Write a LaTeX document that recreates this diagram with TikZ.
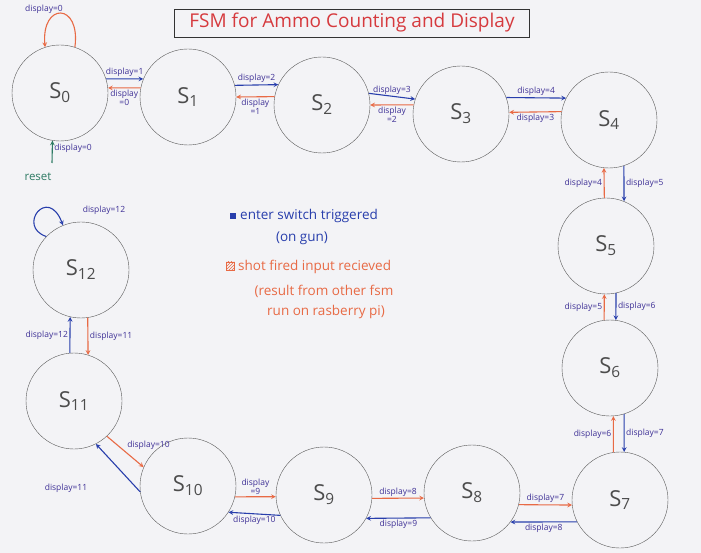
\documentclass[tikz,border=0pt]{standalone}
\usepackage{fontspec}
\setmainfont{Open Sans}
\usetikzlibrary{patterns}

\definecolor{bluearr}{RGB}{40,62,172}
\definecolor{orangearr}{RGB}{232,106,69}
\definecolor{ink}{RGB}{62,48,150}
\definecolor{rstgreen}{RGB}{45,122,99}
\definecolor{titlered}{RGB}{214,58,62}
\definecolor{paper}{RGB}{243,243,246}

\begin{document}
\begin{tikzpicture}[x=1pt, y=-1pt, >=stealth,
  state/.style={circle, draw=black!65, minimum size=96pt, inner sep=0pt,
    font=\fontsize{22}{24}\selectfont, text=black!70},
  enterarr/.style={->, line width=1.1pt, bluearr},
  shotarr/.style={->, line width=1.1pt, orangearr},
  lbl/.style={font=\fontsize{8.5}{9}\selectfont, text=ink, inner sep=1.5pt, align=center},
  legtxt/.style={font=\fontsize{13.5}{15}\selectfont, inner sep=1pt}]

\fill[paper] (0,0) rectangle (701,553);

\node[draw=black!80, line width=0.8pt, minimum width=355pt, minimum height=28pt,
  text=titlered, font=\fontsize{19}{22}\selectfont] (title) at (352,23)
  {FSM for Ammo Counting and Display};

\node[state] (s0) at (60,93) {S\textsubscript{0}};
\node[state] (s1) at (188,97) {S\textsubscript{1}};
\node[state] (s2) at (322,105) {S\textsubscript{2}};
\node[state] (s3) at (461,114) {S\textsubscript{3}};
\node[state] (s4) at (609,120) {S\textsubscript{4}};
\node[state] (s5) at (606,246) {S\textsubscript{5}};
\node[state] (s6) at (610,368) {S\textsubscript{6}};
\node[state] (s7) at (620,500) {S\textsubscript{7}};
\node[state] (s8) at (472,493) {S\textsubscript{8}};
\node[state] (s9) at (324,495) {S\textsubscript{9}};
\node[state] (s10) at (188,486) {S\textsubscript{10}};
\node[state] (s11) at (74,401) {S\textsubscript{11}};
\node[state] (s12) at (81,270) {S\textsubscript{12}};

% self loops and reset
\draw[shotarr] (s0.72) .. controls +(6,-45) and +(-4,-45) .. (s0.108);
\node[lbl] (l00) at (44,9) {display=0};
\draw[enterarr] (s12.136) .. controls +(-30,-10) and +(-15,-40) .. (s12.112);
\node[lbl] (l1212) at (104,210) {display=12};

\coordinate (rstpt) at (52,163);
\draw[->, line width=1.1pt, rstgreen] (rstpt) -- (s0.-99)
  node[lbl, midway, right, yshift=4pt] (lrst) {display=0};
\node[text=rstgreen, font=\fontsize{11.5}{13}\selectfont] (reset) at (38,177) {reset};

% top row
\draw[enterarr] (s0.17) -- (s1.158) node[lbl, midway, above] (l01) {display=1};
\draw[shotarr] (s1.169) -- (s0.6) node[lbl, midway, below] (l10) {display\\=0};
\draw[enterarr] (s1.14) -- (s2.155) node[lbl, midway, above] (l12) {display=2};
\draw[shotarr] (s2.170) -- (s1.0) node[lbl, midway, below] (l21) {display\\=1};
\draw[enterarr] (s2.14) -- (s3.162) node[lbl, midway, above] (l23) {display=3};
\draw[shotarr] (s3.169) -- (s2.0) node[lbl, midway, below] (l32) {display\\=2};
\draw[enterarr] (s3.20) -- (s4.153) node[lbl, midway, above] (l34) {display=4};
\draw[shotarr] (s4.170) -- (s3.2) node[lbl, midway, below] (l43) {display=3};

% right column
\draw[enterarr] (s4.-72) -- (s5.68) node[lbl, midway, right] (l45) {display=5};
\draw[shotarr] (s5.92) -- (s4.-96) node[lbl, midway, left] (l54) {display=4};
\draw[enterarr] (s5.-78) -- (s6.83) node[lbl, midway, right] (l56) {display=6};
\draw[shotarr] (s6.97) -- (s5.-92) node[lbl, midway, left] (l65) {display=5};
\draw[enterarr] (s6.-73) -- (s7.85) node[lbl, midway, right] (l67) {display=7};
\draw[shotarr] (s7.98) -- (s6.-86) node[lbl, midway, left] (l76) {display=6};

% bottom row
\draw[enterarr] (s7.207) -- (s8.-37) node[lbl, midway, below] (l78) {display=8};
\draw[shotarr] (s8.-14) -- (s7.186) node[lbl, midway, above] (l87) {display=7};
\draw[enterarr] (s8.211) -- (s9.-29) node[lbl, midway, below] (l89) {display=9};
\draw[shotarr] (s9.-4) -- (s8.186) node[lbl, midway, above] (l98) {display=8};
\draw[enterarr] (s9.205) -- (s10.-33) node[lbl, midway, below] (l910) {display=10};
\draw[shotarr] (s10.-13) -- (s9.182) node[lbl, midway, above] (l109) {display\\=9};

% left column
\draw[enterarr] (s10.187) -- (s11.-63);
\node[lbl] (l1011) at (66,488) {display=11};
\draw[shotarr] (s11.-47) -- (s10.157) node[lbl, midway, above right] (l1110) {display=10};
\draw[enterarr] (s11.95) -- (s12.-103) node[lbl, midway, left] (l1112) {display=12};
\draw[shotarr] (s12.-82) -- (s11.73) node[lbl, midway, right] (l1211) {display=11};

% legend
\node[fill=bluearr, minimum size=6pt, inner sep=0pt] (kenter) at (233,216) {};
\node[legtxt, anchor=west, text=bluearr] (tenter) at (239,216) {enter switch triggered};
\node[legtxt, text=bluearr] (tgun) at (302,238) {(on gun)};
\node[draw=orangearr, pattern=north east lines, pattern color=orangearr,
  minimum size=8pt, inner sep=0pt] (kshot) at (230,266) {};
\node[legtxt, anchor=west, text=orangearr] (tshot) at (237,267) {shot fired input recieved};
\node[legtxt, text=orangearr] (tres) at (324,291) {(result from other fsm};
\node[legtxt, text=orangearr] (tpi) at (326,312) {run on rasberry pi)};

\end{tikzpicture}
\end{document}
